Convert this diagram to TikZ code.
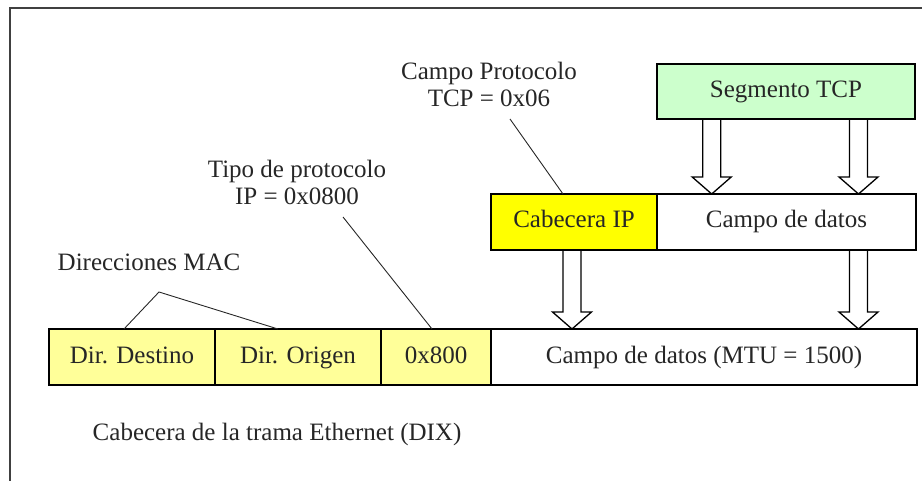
\documentclass[tikz,border=0pt]{standalone}
\usepackage{fontspec}
\setmainfont{Liberation Serif}
\usetikzlibrary{calc}
\definecolor{tcpgreen}{RGB}{204,255,204}
\definecolor{ipyellow}{RGB}{255,255,0}
\definecolor{ethyellow}{RGB}{255,255,153}
\newcommand\blkarrow[3]{%
  \path (#2 -| #1) coordinate (ba-s) (#3 -| #1) coordinate (ba-e);
  \draw[blkarr] let \p1=(ba-s), \p2=(ba-e) in
    (\x1-9pt,\y1) -- (\x1-9pt,\y2+17pt) -- (\x1-19.5pt,\y2+17pt) -- (\x1,\y2)
    -- (\x1+19.5pt,\y2+17pt) -- (\x1+9pt,\y2+17pt) -- (\x1+9pt,\y1);}
\begin{document}
\begin{tikzpicture}[x=1pt,y=-1pt,
  every node/.style={font=\fontsize{25}{27}\selectfont, text=black!85},
  field/.style={draw=black, line width=1.4pt, inner sep=0pt, outer sep=0pt,
    minimum height=56pt, text height=17pt, text depth=5pt},
  lbl/.style={align=center, inner sep=0pt},
  leader/.style={draw=black!85, line width=0.9pt},
  blkarr/.style={draw=black, line width=1.3pt, line join=miter},
  frame/.style={draw=black!75, line width=1.6pt}]
\useasboundingbox (0,0) rectangle (922,481);
\draw[frame] (10,481) -- (10,8) -- (922,8);

% TCP segment
\node[field, fill=tcpgreen, minimum width=258pt, minimum height=55pt] (seg) at (786,91.5) {Segmento TCP};

% IP datagram
\node[field, fill=ipyellow, minimum width=166pt] (iph) at (574,222) {Cabecera IP};
\node[field, fill=white, minimum width=259pt] (ipd) at (786.5,222) {Campo de datos};

% Ethernet frame
\node[field, fill=ethyellow, minimum width=166pt] (dst) at (132,357) {Dir. Destino};
\node[field, fill=ethyellow, minimum width=166pt] (org) at (298,357) {Dir. Origen};
\node[field, fill=ethyellow, minimum width=110pt] (typ) at (436,357) {0x800};
\node[field, fill=white, minimum width=426pt] (dat) at (704,357) {Campo de datos (MTU = 1500)};

% labels
\node[lbl] (lproto) at (489,84) {Campo Protocolo\\TCP = 0x06};
\node[lbl] (ltipo) at (297,182) {Tipo de protocolo\\IP = 0x0800};
\node[lbl, anchor=base] (lmac) at (149,271) {Direcciones MAC};
\node[lbl, anchor=base] (leth) at (277,440) {Cabecera de la trama Ethernet (DIX)};

% leader lines
\coordinate (cp) at (510,119);
\coordinate (ct) at (343,217);
\coordinate (cm) at (159,292);
\draw[leader] (cp) -- ([xshift=-11pt]iph.north);
\draw[leader] (ct) -- ([xshift=-4pt]typ.north);
\draw[leader] ([xshift=-8pt]dst.north) -- (cm) -- ([xshift=-20pt]org.north);

% block arrows
\coordinate (xa) at (711.7,0);
\coordinate (xb) at (858.5,0);
\coordinate (xc) at (572,0);
\blkarrow{xa}{seg.south}{ipd.north}
\blkarrow{xb}{seg.south}{ipd.north}
\blkarrow{xc}{iph.south}{dat.north}
\blkarrow{xb}{ipd.south}{dat.north}
\end{tikzpicture}
\end{document}
